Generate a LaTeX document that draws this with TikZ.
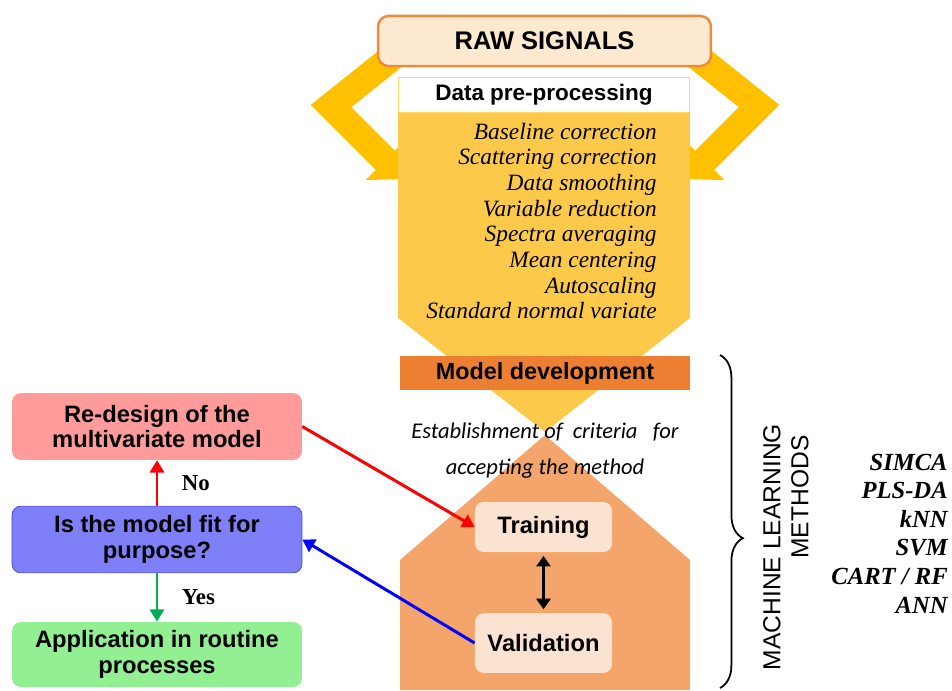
\documentclass[tikz,border=0pt]{standalone}
\usepackage{fontspec}
\setmainfont{Liberation Serif}
\setsansfont{Liberation Sans}
\newfontfamily\calib{Carlito}
\usetikzlibrary{arrows.meta, decorations.pathreplacing}

\definecolor{chevyellow}{HTML}{FFC000}
\definecolor{rawfill}{HTML}{FCE9D0}
\definecolor{rawedge}{HTML}{EE8B3A}
\definecolor{bodyyellow}{HTML}{FCC94A}
\definecolor{headedge}{HTML}{FFD966}
\definecolor{modelorange}{HTML}{EC7F32}
\definecolor{lowerorange}{HTML}{F3A56B}
\definecolor{trainfill}{HTML}{FBE3D2}
\definecolor{redofill}{HTML}{FF9B9B}
\definecolor{fitfill}{HTML}{7F7FF7}
\definecolor{fitedge}{HTML}{4545D8}
\definecolor{appfill}{HTML}{92F092}
\definecolor{arrowgreen}{HTML}{00B050}

\begin{document}
\begin{tikzpicture}[x = 0.5692pt, y = -0.5692pt,
    lbox/.style = {rounded corners = 5pt, minimum width = 165pt, align = center,
                   font = \sffamily\bfseries\fontsize{13.5}{14.5}\selectfont},
    innerbox/.style = {rounded corners = 5pt, fill = trainfill, minimum width = 78pt,
                       font = \sffamily\bfseries\fontsize{13.5}{15}\selectfont},
    flow/.style = {line width = 1.7pt, -{Triangle[width = 8pt, length = 7pt]}},
    answer/.style = {right = 10pt, text = black, font = \bfseries\fontsize{13}{15}\selectfont},
    chevron/.style = {chevyellow, line width = 15.4pt, line join = miter,
                      -{Triangle[width = 31pt, length = 15pt]}}]
        \useasboundingbox (0,0) rectangle (952,690);
        \draw[chevron] (405,47) -- (331,106) -- (404,179);
        \draw[chevron] (685,47) -- (759,106) -- (686,179);
        \node[draw = rawedge, line width = 1.4pt, fill = rawfill, rounded corners = 6pt,
              minimum width = 189.5pt, minimum height = 28.5pt,
              font = \sffamily\bfseries\fontsize{14.5}{16}\selectfont] (raw) at (544.5,41) {RAW SIGNALS};
        \fill[bodyyellow] (398,112) -- (690,112) -- (690,318) -- (545,432) -- (398,318) -- cycle;
        \fill[lowerorange] (545,435) -- (690,560) -- (690,690) -- (400,690) -- (400,560) -- cycle;
        \node[draw = headedge, fill = white, minimum width = 166pt, minimum height = 20pt,
              font = \sffamily\bfseries\fontsize{12.8}{15}\selectfont] (prep) at (544,94.5) {Data pre-processing};
        \node[anchor = east, align = right, inner sep = 0pt,
              font = \itshape\fontsize{13.3}{14.6}\selectfont] (steps) at (657,221)
              {Baseline correction\\Scattering correction\\Data smoothing\\Variable reduction\\
               Spectra averaging\\Mean centering\\Autoscaling\\Standard normal variate};
        \node[fill = modelorange, minimum width = 165pt, minimum height = 18.2pt,
              font = \sffamily\bfseries\fontsize{13.3}{15}\selectfont] (model) at (545,373) {Model development};
        \node[align = center, font = \calib\itshape\fontsize{12.8}{20.5}\selectfont] (crit) at (545,451)
              {Establishment of\ \ criteria\ \ \ for\\accepting the method};
        \node[innerbox, minimum height = 28.5pt] (train) at (543.5,527) {Training};
        \node[innerbox, minimum height = 34pt] (valid) at (543.5,643) {Validation};
        \draw[line width = 2pt, {Triangle[width = 8pt, length = 6pt]}-{Triangle[width = 8pt, length = 6pt]},
              shorten < = 2pt, shorten > = 2pt] (train) -- (valid);
        \node[lbox, fill = redofill, minimum height = 38pt] (redesign) at (157,426.5)
              {Re-design of the\\multivariate model};
        \node[lbox, fill = fitfill, draw = fitedge, minimum height = 38pt] (fit) at (157,539.5)
              {Is the model fit for\\purpose?};
        \node[lbox, fill = appfill, minimum height = 37pt] (app) at (157,654.5)
              {Application in routine\\processes};
        \draw[flow, red] (fit) -- node[answer] (no) {No} (redesign);
        \draw[flow, arrowgreen] (fit) -- node[answer] (yes) {Yes} (app);
        \draw[flow, red] (redesign.east) -- (train.west);
        \draw[flow, blue] (valid.west) -- (fit.east);
        \draw[line width = 1pt, decorate, decoration = {brace, amplitude = 13pt, aspect = 0.55}]
              (720,355) -- (720,688);
        \node[rotate = 90, font = \sffamily\fontsize{14}{16}\selectfont] (ml) at (772,547) {MACHINE LEARNING};
        \node[rotate = 90, font = \sffamily\fontsize{14}{16}\selectfont] (meth) at (800,497) {METHODS};
        \node[anchor = east, align = right, inner sep = 0pt,
              font = \bfseries\itshape\fontsize{14}{16.3}\selectfont] (algos) at (948,533.5)
              {SIMCA\\PLS-DA\\kNN\\SVM\\CART / RF\\ANN};
      \end{tikzpicture}
\end{document}
